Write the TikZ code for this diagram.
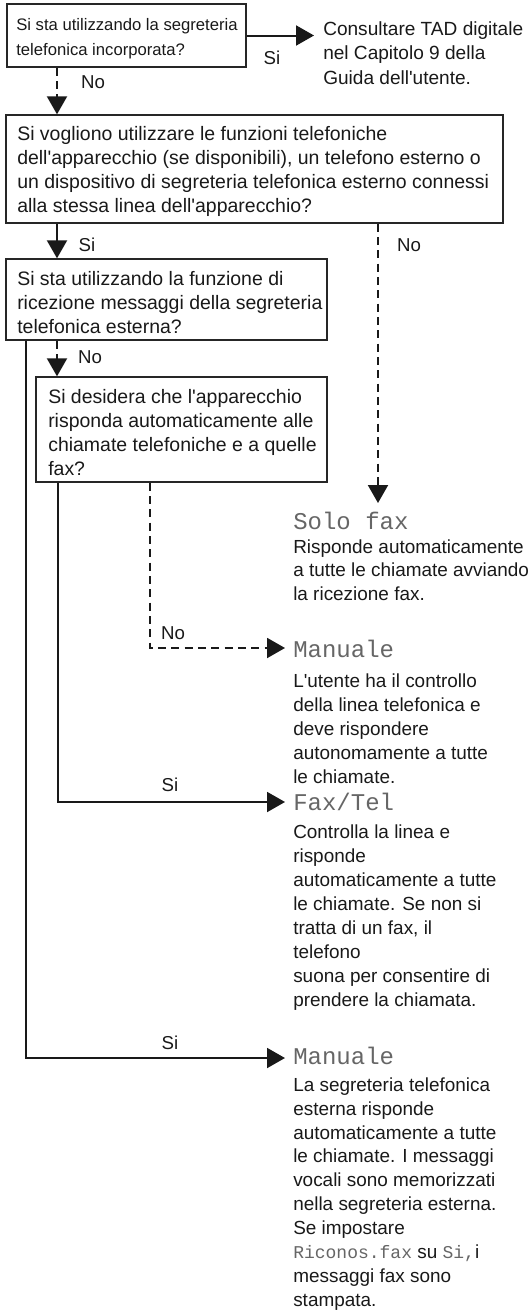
\documentclass[tikz,border=0pt]{standalone}
\usepackage{fontspec}
\setmainfont{Liberation Sans}[Ligatures=TeXOff]
\newfontfamily\lcd{Liberation Mono}
\usetikzlibrary{arrows.meta,fit}
\newcommand\myfs{\rule{0pt}{15pt}}
\begin{document}
\begin{tikzpicture}[x=0.75pt,y=-0.75pt,
  box/.style={draw=black!85, line width=1pt, inner sep=0pt},
  txt/.style={anchor=north west, inner sep=0pt, align=left, text=black!90},
  boxfont/.style={font=\fontsize{14.6}{18}\selectfont},
  descfont/.style={font=\fontsize{14.2}{18}\selectfont},
  head/.style={anchor=base west, inner sep=0pt, text=black!60, font=\lcd\fontsize{18}{18}\selectfont},
  lab/.style={inner sep=0pt, text=black!90, font=\fontsize{14}{16}\selectfont},
  conn/.style={line width=1.5pt, draw=black!90, -{Triangle[length=13.5pt,width=15pt]}},
  solidconn/.style={conn},
  dashconn/.style={conn, dash pattern=on 6pt off 4pt},
  plainline/.style={line width=1.5pt, draw=black!90}
]
\useasboundingbox (0,0) rectangle (528,1310);

% boxes
\node[box, fit={(7,4) (246,67)}] (b1) {};
\node[box, fit={(6,115) (503,223)}] (b2) {};
\node[box, fit={(6,259) (327,340)}] (b3) {};
\node[box, fit={(36,377) (327,482)}] (b4) {};

% box texts
\node[txt, font=\fontsize{12.5}{18.75}\selectfont] (t1) at (16,10)
  {\myfs Si sta utilizzando la segreteria\\telefonica incorporata?};
\node[txt, boxfont] (t2) at (17,120)
  {\myfs Si vogliono utilizzare le funzioni telefoniche\\dell'apparecchio (se disponibili), un telefono esterno o\\un dispositivo di segreteria telefonica esterno connessi\\alla stessa linea dell'apparecchio?};
\node[txt, boxfont] (t3) at (17,265)
  {\myfs Si sta utilizzando la funzione di\\ricezione messaggi della segreteria\\telefonica esterna?};
\node[txt, boxfont] (t4) at (48,383)
  {\myfs Si desidera che l'apparecchio\\risponda automaticamente alle\\chiamate telefoniche e a quelle\\fax?};

% right texts
\node[txt, font=\fontsize{14.3}{18.4}\selectfont] (c1) at (323,15)
  {\myfs Consultare TAD digitale\\nel Capitolo 9 della\\Guida dell'utente.};

\node[head] (sf) at (293,529) {Solo fax};
\node[txt, descfont, font=\fontsize{14.2}{17.6}\selectfont] (d1) at (293,533)
  {\myfs Risponde automaticamente\\a tutte le chiamate avviando\\la ricezione fax.};

\node[head] (m1) at (293,657) {Manuale};
\node[txt, descfont] (d2) at (293,667)
  {\myfs L'utente ha il controllo\\della linea telefonica e\\deve rispondere\\autonomamente a tutte\\le chiamate.};

\node[head] (ft) at (293,810) {Fax/Tel};
\node[txt, descfont] (d3) at (293,818)
  {\myfs Controlla la linea e\\risponde\\automaticamente a tutte\\le chiamate. Se non si\\tratta di un fax, il\\telefono\\suona per consentire di\\prendere la chiamata.};

\node[head] (m2) at (293,1064) {Manuale};
\node[txt, descfont, font=\fontsize{14.2}{17.9}\selectfont] (d4) at (293,1071)
  {\myfs La segreteria telefonica\\esterna risponde\\automaticamente a tutte\\le chiamate. I messaggi\\vocali sono memorizzati\\nella segreteria esterna.\\Se impostare\\{\color{black!60}\lcd\fontsize{13.5}{13.5}\selectfont Riconos.fax} su {\color{black!60}\lcd\fontsize{13.5}{13.5}\selectfont Si,}i\\messaggi fax sono\\stampata.};

% column / tip coordinates
\coordinate (xA) at (57,0);
\coordinate (xL) at (26,0);
\coordinate (xM) at (58,0);
\coordinate (xD) at (150,0);
\coordinate (xR) at (378,0);
\coordinate (c1tip) at (314,35.5);
\coordinate (sftip) at (378,503);
\coordinate (m1tip) at (285,648);
\coordinate (fttip) at (285,802);
\coordinate (m2tip) at (285,1058);

% connectors
\draw[solidconn] (b1.east) -- (c1tip);
\draw[dashconn] (b1.south -| xA) -- (b2.north -| xA);
\draw[solidconn] (b2.south -| xA) -- (b3.north -| xA);
\draw[dashconn] (b2.south -| xR) -- (sftip);
\draw[dashconn] (b3.south -| xA) -- (b4.north -| xA);
\draw[dashconn] (b4.south -| xD) |- (m1tip);
\draw[solidconn] (b4.south -| xM) |- (fttip);
\draw[solidconn] (b3.south -| xL) |- (m2tip);

% labels
\node[lab] (l1) at (272,58) {Si};
\node[lab] (l2) at (93,82) {No};
\node[lab] (l3) at (87,245) {Si};
\node[lab] (l4) at (409,245) {No};
\node[lab] (l5) at (90,357) {No};
\node[lab] (l6) at (173,633) {No};
\node[lab] (l7) at (170,785) {Si};
\node[lab] (l8) at (170,1043) {Si};
\end{tikzpicture}
\end{document}
